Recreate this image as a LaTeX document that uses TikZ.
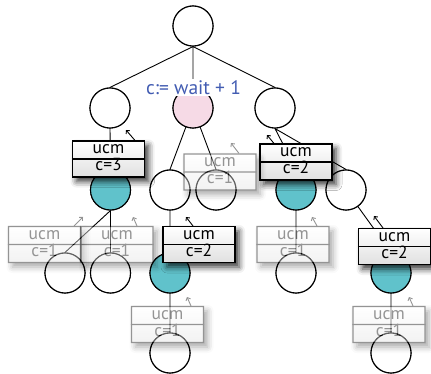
\documentclass[tikz,border=0pt]{standalone}
\usepackage{fontspec}
\setmainfont{PT Sans}
\usetikzlibrary{shadows.blur, arrows.meta}

\definecolor{tealfill}{RGB}{96,194,203}
\definecolor{pinkfill}{RGB}{246,218,230}
\definecolor{labelblue}{RGB}{66,92,178}

% counter box: name, centre, count
\newcommand{\cntbox}[3]{%
  \node[cbox] (#1) at (#2) {};
  \draw[divider] (#1.west) -- (#1.east);
  \node[ctext] (#1u) at ([yshift=5pt]#1.center) {ucm};
  \node[ctext] (#1c) at ([yshift=-12pt]#1.center) {#3};
}

\begin{document}
\begin{tikzpicture}[x=1pt, y=-1pt,
  vertex/.style={circle, draw, line width=1.1pt, minimum size=40pt, inner sep=0pt, fill=white},
  hot/.style={vertex, fill=tealfill},
  marked/.style={vertex, fill=pinkfill},
  edge/.style={line width=0.9pt},
  cbox/.style={rectangle, draw, line width=1.1pt, minimum width=72pt, minimum height=36pt,
    inner sep=0pt, top color=white, bottom color=black!12,
    blur shadow={shadow xshift=4pt, shadow yshift=-4.5pt, shadow blur radius=6pt, shadow opacity=80}},
  divider/.style={line width=1.1pt},
  ctext/.style={anchor=base, inner sep=0pt, font=\fontsize{17.5}{17.5}\selectfont},
  ghost/.style={transparency group, opacity=0.42},
  ptr/.style={line width=0.9pt, -{Straight Barb[length=2.5pt, width=5pt]}},
]
\useasboundingbox (0,0) rectangle (431,374);

% tree vertices (placed first so the edges can refer to them)
\node[vertex] (root) at (193,26) {};
\node[vertex] (l1) at (110,108) {};
\node[marked] (pink) at (193,108) {};
\node[vertex] (r1) at (275,108) {};
\node[hot] (tl) at (110.5,190) {};
\node[vertex] (m1) at (170,190) {};
\node[vertex] (m2) at (216,190) {};
\node[hot] (rt) at (296,190) {};
\node[vertex] (rw) at (346,190) {};
\node[vertex] (ll1) at (65,273) {};
\node[vertex] (ll2) at (110.5,273) {};
\node[hot] (mt) at (170,273) {};
\node[vertex] (rtb) at (296,273) {};
\node[hot] (rwt) at (391,273) {};
\node[vertex] (mb) at (170,353) {};
\node[vertex] (rwb) at (391,353) {};

% tree edges
\path[edge, draw] (root.south) -- (l1.north)
  (root.south) -- (pink.north)
  (root.south) -- (r1.north)
  (l1.south) -- (tl.north)
  (tl.south) -- (ll1.north)
  (tl.south) -- (ll2.north)
  (pink.center) -- (m1.north)
  (pink.center) -- (m2.north)
  (m1.south) -- (mt.north)
  (mt.south) -- (mb.north)
  (r1.south) -- (rt.north)
  (r1.south) -- (rw.north)
  (rt.south) -- (rtb.north)
  (rw.center) -- (rwt.north)
  (rwt.south) -- (rwb.north);

% redraw vertices over the edges
\foreach \n/\s in {root/vertex, l1/vertex, pink/marked, r1/vertex, tl/hot, m1/vertex,
  m2/vertex, rt/hot, rw/vertex, ll1/vertex, ll2/vertex, mt/hot, rtb/vertex, rwt/hot,
  mb/vertex, rwb/vertex}
  \node[\s] at (\n) {};

% update label
\node[anchor=base, fill=white, inner xsep=1pt, inner ysep=1.5pt, text=labelblue,
  font=\fontsize{19.5}{19.5}\selectfont] (lbl) at (193.5,94.5) {c:= wait + 1};

% active counters
\cntbox{b1}{108.5,159}{c=3}
\cntbox{b2}{296,162}{c=2}
\cntbox{b3}{199,244.5}{c=2}
\cntbox{b4}{394.5,246.5}{c=2}

\coordinate (h1) at (126,130);
\coordinate (h2) at (267,135);
\coordinate (h3) at (186,217);
\coordinate (h4) at (374,216);
\draw[ptr] ([xshift=26.5pt]b1.north) -- (h1);
\draw[ptr] ([xshift=-22pt]b2.north) -- (h2);
\draw[ptr] ([xshift=-6pt]b3.north) -- (h3);
\draw[ptr] ([xshift=-11.5pt]b4.north) -- (h4);

% faded counters
\begin{scope}[ghost]
  \cntbox{ga}{220,172}{c=1}
  \coordinate (ha) at (231,143);
  \draw[ptr] ([xshift=19pt]ga.north) -- (ha);
\end{scope}
\begin{scope}[ghost]
  \cntbox{gb}{44.5,244.5}{c=1}
  \coordinate (hb) at (83,217);
  \draw[ptr] ([xshift=29.5pt]gb.north) -- (hb);
\end{scope}
\begin{scope}[ghost]
  \cntbox{gc}{117,244.5}{c=1}
  \coordinate (hc) at (133,217);
  \draw[ptr] ([xshift=20pt]gc.north) -- (hc);
\end{scope}
\begin{scope}[ghost]
  \cntbox{gd}{293,244.5}{c=1}
  \coordinate (hd) at (312,217);
  \draw[ptr] ([xshift=24pt]gd.north) -- (hd);
\end{scope}
\begin{scope}[ghost]
  \cntbox{ge}{167.5,324.5}{c=1}
  \coordinate (he) at (187,297);
  \draw[ptr] ([xshift=23.5pt]ge.north) -- (he);
\end{scope}
\begin{scope}[ghost]
  \cntbox{gf}{389,324.5}{c=1}
  \coordinate (hf) at (409,297);
  \draw[ptr] ([xshift=24pt]gf.north) -- (hf);
\end{scope}
\end{tikzpicture}
\end{document}
